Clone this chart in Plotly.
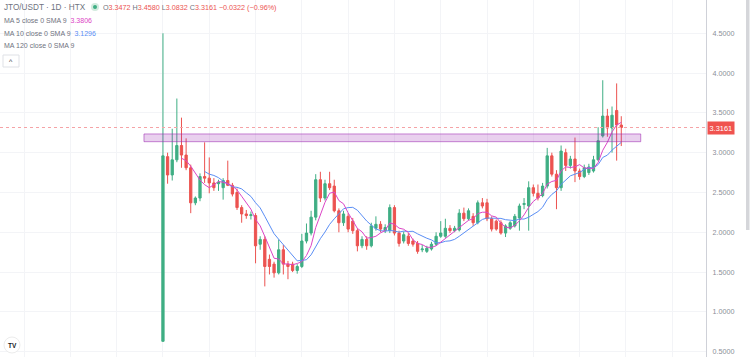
import plotly.graph_objects as go
import pandas as pd

# ---------------- data ----------------
opens = [0.63, 2.95, 2.72, 2.91, 3.09, 2.97, 2.81, 2.37, 2.43, 2.70,
         2.68, 2.62, 2.61, 2.56, 2.65, 2.59, 2.50, 2.31, 2.23, 2.21,
         2.21, 1.85, 1.91, 1.66, 1.60, 1.49, 1.78, 1.60, 1.60, 1.52,
         1.57, 1.89, 1.99, 2.19, 2.66, 2.43, 2.61, 2.58, 2.27, 2.12,
         2.20, 2.14, 2.02, 1.83, 1.91, 1.83, 2.05, 2.10, 2.02, 2.02,
         2.31, 1.99, 1.89, 1.95, 1.89, 1.86, 1.78, 1.76, 1.79, 1.85,
         1.95, 1.95, 2.05, 2.02, 2.03, 2.24, 2.17, 2.20, 2.12, 2.37,
         2.37, 2.17, 2.14, 2.12, 1.99, 2.05, 2.08, 2.18, 2.35, 2.33,
         2.56, 2.49, 2.46, 2.58, 2.96, 2.73, 2.56, 3.00, 2.84, 2.92,
         2.77, 2.70, 2.75, 2.77, 2.91, 3.21, 3.46, 3.31, 3.53, 3.3472]
highs = [4.50, 3.00, 3.30, 3.68, 3.44, 3.18, 2.85, 2.45, 2.74, 3.13,
         2.94, 2.68, 2.66, 2.68, 2.90, 2.62, 2.55, 2.34, 2.28, 2.26,
         2.24, 1.95, 1.95, 1.72, 1.63, 1.91, 1.84, 1.64, 1.63, 1.60,
         1.98, 2.11, 2.27, 2.73, 2.76, 2.66, 2.76, 2.66, 2.30, 2.27,
         2.24, 2.18, 2.05, 1.95, 1.95, 2.12, 2.20, 2.14, 2.10, 2.35,
         2.34, 2.02, 2.01, 1.99, 1.92, 1.89, 1.84, 1.83, 1.88, 2.00,
         2.14, 2.17, 2.09, 2.08, 2.29, 2.31, 2.30, 2.24, 2.40, 2.43,
         2.42, 2.20, 2.16, 2.15, 2.10, 2.14, 2.23, 2.36, 2.43, 2.64,
         2.60, 2.60, 2.62, 3.06, 3.00, 2.78, 3.09, 3.05, 2.96, 3.19,
         2.80, 2.85, 2.86, 2.96, 3.32, 3.91, 3.55, 3.58, 3.87, 3.4580]
lows = [0.63, 2.61, 2.65, 2.88, 2.81, 2.78, 2.24, 2.34, 2.39, 2.62,
        2.49, 2.52, 2.52, 2.41, 2.58, 2.45, 2.28, 2.12, 2.17, 2.16,
        1.61, 1.78, 1.32, 1.47, 1.43, 1.47, 1.47, 1.41, 1.50, 1.48,
        1.55, 1.86, 1.96, 2.15, 2.38, 2.40, 2.53, 2.25, 2.00, 2.08,
        2.00, 1.98, 1.76, 1.80, 1.78, 1.81, 2.02, 2.00, 1.99, 1.99,
        1.96, 1.82, 1.86, 1.83, 1.82, 1.73, 1.75, 1.74, 1.77, 1.83,
        1.93, 1.93, 1.99, 2.00, 2.01, 2.14, 2.15, 2.08, 2.10, 2.30,
        2.14, 2.01, 2.02, 1.97, 1.94, 2.03, 2.06, 2.02, 2.29, 2.02,
        2.45, 2.40, 2.44, 2.55, 2.70, 2.29, 2.52, 2.77, 2.80, 2.63,
        2.66, 2.68, 2.72, 2.75, 2.90, 3.19, 3.20, 3.00, 2.90, 3.0832]
closes = [2.96, 2.72, 2.91, 3.09, 2.97, 2.81, 2.37, 2.43, 2.70, 2.68,
          2.62, 2.56, 2.63, 2.65, 2.59, 2.48, 2.31, 2.23, 2.21, 2.22,
          1.83, 1.91, 1.57, 1.57, 1.49, 1.78, 1.60, 1.57, 1.52, 1.57,
          1.89, 1.99, 2.19, 2.66, 2.43, 2.61, 2.56, 2.27, 2.12, 2.23,
          2.04, 2.02, 1.83, 1.91, 1.83, 2.08, 2.10, 2.04, 2.06, 2.31,
          1.99, 1.86, 1.97, 1.86, 1.85, 1.76, 1.79, 1.80, 1.85, 1.95,
          1.99, 2.05, 2.02, 2.05, 2.24, 2.17, 2.27, 2.12, 2.37, 2.33,
          2.17, 2.04, 2.04, 1.99, 2.08, 2.12, 2.20, 2.33, 2.36, 2.56,
          2.49, 2.43, 2.58, 2.96, 2.73, 2.56, 3.02, 2.84, 2.92, 2.77,
          2.70, 2.81, 2.82, 2.91, 3.15, 3.46, 3.31, 3.47, 3.3483, 3.3161]
days = list(range(len(closes)))

ytick_vals = [0.5, 1.0, 1.5, 2.0, 2.5, 3.0, 3.5, 4.0, 4.5]
zone_low, zone_high = 3.138, 3.235
zone_start, zone_end = -4.1, 103.2
last_price = closes[-1]

title_text = "JTO/USDT · 1D · HTX"
ohlc_labels = ["O", "H", "L", "C"]
ohlc_values = ["3.3472", "3.4580", "3.0832", "3.3161"]
change_text = "−0.0322 (−0.96%)"
ma_legend = [("MA 5 close 0 SMA 9", "3.3806"),
             ("MA 10 close 0 SMA 9", "3.1296"),
             ("MA 120 close 0 SMA 9", "")]

UP = "#3fae84"
DOWN = "#ec5350"
MA5_COLOR = "#dc45c6"
MA10_COLOR = "#5a8ef5"
TXT = "#6f7380"
FONT = "Liberation Sans, Arial, sans-serif"

close_s = pd.Series(closes)
ma5 = close_s.rolling(5).mean()
ma10 = close_s.rolling(10).mean()

W, H = 750, 357
PLOT_R = 706  # right edge of plot area in px


def px(x):
    return x / PLOT_R


def py(y):
    return 1 - y / H


fig = go.Figure()
fig.add_trace(go.Candlestick(
    x=days, open=opens, high=highs, low=lows, close=closes,
    increasing=dict(line=dict(color=UP, width=1), fillcolor=UP),
    decreasing=dict(line=dict(color=DOWN, width=1), fillcolor=DOWN),
    whiskerwidth=0, showlegend=False, hoverinfo="skip"))
fig.add_trace(go.Scatter(x=days, y=ma10, mode="lines",
                         line=dict(color=MA10_COLOR, width=1), showlegend=False,
                         hoverinfo="skip"))
fig.add_trace(go.Scatter(x=days, y=ma5, mode="lines",
                         line=dict(color=MA5_COLOR, width=1), showlegend=False,
                         hoverinfo="skip"))

shapes = []
# purple zone rectangle
shapes.append(dict(type="rect", xref="x", yref="y", x0=zone_start, x1=zone_end,
                   y0=zone_low, y1=zone_high, fillcolor="rgba(156,39,176,0.22)",
                   line=dict(color="rgba(156,39,176,0.55)", width=1), layer="above"))
# last price dotted line
shapes.append(dict(type="line", xref="paper", yref="y", x0=0, x1=1,
                   y0=last_price, y1=last_price,
                   line=dict(color="#f5a3a6", width=1, dash="dot")))
# scrollbar at right edge
shapes.append(dict(type="rect", xref="paper", yref="paper",
                   x0=px(746), x1=px(749.5), y0=py(230), y1=py(0),
                   fillcolor="#d5d6da", line=dict(width=0)))
# status dot in header
shapes.append(dict(type="circle", xref="paper", yref="paper",
                   x0=px(91), x1=px(99), y0=py(11), y1=py(3),
                   fillcolor="rgba(76,175,125,0.25)", line=dict(width=0)))
shapes.append(dict(type="circle", xref="paper", yref="paper",
                   x0=px(93), x1=px(97), y0=py(9), y1=py(5),
                   fillcolor="#3fae84", line=dict(width=0)))
# collapse button
shapes.append(dict(type="rect", xref="paper", yref="paper",
                   x0=px(3), x1=px(19), y0=py(67), y1=py(55),
                   fillcolor="white", line=dict(color="#dfe1e6", width=1)))
# TV logo circle
shapes.append(dict(type="circle", xref="paper", yref="paper",
                   x0=px(4), x1=px(20), y0=py(353), y1=py(337),
                   fillcolor="white", line=dict(color="#ececec", width=1)))

ann = []
ann.append(dict(text=title_text, xref="paper", yref="paper", x=px(2), y=py(7),
                xanchor="left", yanchor="middle", showarrow=False,
                font=dict(family=FONT, size=8.2, color=TXT)))
ohlc_html = " ".join(
    f"{lab}<span style='color:{DOWN}'>{val}</span>"
    for lab, val in zip(ohlc_labels, ohlc_values))
ohlc_html += f" <span style='color:{DOWN}'>{change_text}</span>"
ann.append(dict(text=ohlc_html, xref="paper", yref="paper", x=px(101), y=py(7),
                xanchor="left", yanchor="middle", showarrow=False,
                font=dict(family=FONT, size=7.2, color=TXT)))
ma_colors = [MA5_COLOR, MA10_COLOR, MA5_COLOR]
for i, (lab, val) in enumerate(ma_legend):
    t = lab
    if val:
        t += f"  <span style='color:{ma_colors[i]}'>{val}</span>"
    ann.append(dict(text=t, xref="paper", yref="paper", x=px(2), y=py(20 + 13 * i),
                    xanchor="left", yanchor="middle", showarrow=False,
                    font=dict(family=FONT, size=7, color=TXT)))
ann.append(dict(text="^", xref="paper", yref="paper", x=px(11), y=py(61),
                xanchor="center", yanchor="middle", showarrow=False,
                font=dict(family=FONT, size=7, color="#333")))
ann.append(dict(text="<b>TV</b>", xref="paper", yref="paper", x=px(12), y=py(345),
                xanchor="center", yanchor="middle", showarrow=False,
                font=dict(family=FONT, size=6.5, color="#131722")))
# last price label on axis
ann.append(dict(text=f"{last_price:.4f}", xref="paper", yref="y", x=1, y=last_price,
                xanchor="left", yanchor="middle", showarrow=False,
                bgcolor="#f0534f", borderpad=1.5, xshift=1,
                font=dict(family=FONT, size=7.4, color="white")))

fig.update_layout(
    width=W, height=H,
    margin=dict(l=0, r=W - PLOT_R, t=0, b=0),
    paper_bgcolor="white", plot_bgcolor="white",
    shapes=shapes, annotations=ann,
    xaxis=dict(range=[-35.2, 117.3], rangeslider=dict(visible=False),
               showticklabels=False, showgrid=True, gridcolor="#f3f4f7",
               tick0=0, dtick=10, zeroline=False, showline=False, ticks=""),
    yaxis=dict(side="right", range=[0.433, 4.918], tickvals=ytick_vals,
               tickformat=".4f", showgrid=True, gridcolor="#f3f4f7",
               zeroline=False, showline=True, linecolor="#cfd1d8", linewidth=1,
               ticks="", ticklabelstandoff=4,
               tickfont=dict(family=FONT, size=7.2, color="#8b8e98")),
    showlegend=False,
)

fig.write_html("out.html", config={"displayModeBar": False},
               post_script="document.body.style.margin='0';document.body.style.overflow='hidden';")
